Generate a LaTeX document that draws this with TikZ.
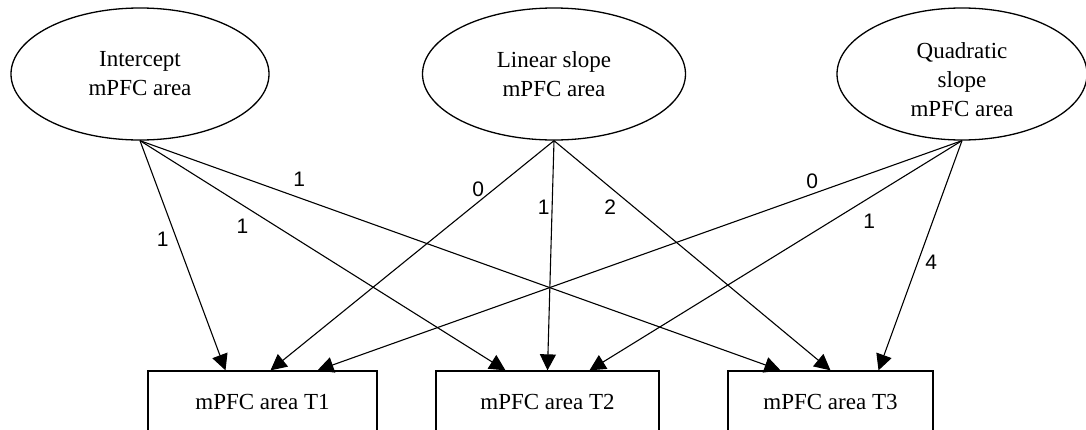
\documentclass[tikz,border=0pt]{standalone}
\usepackage{fontspec}
\setmainfont{Liberation Serif}
\newfontfamily\labfont{Liberation Sans}
\usetikzlibrary{shapes.geometric,arrows.meta}
\begin{document}
\begin{tikzpicture}[x=0.5pt,y=-0.5pt,
  latent/.style={ellipse,draw,line width=0.65pt,inner sep=0pt,minimum height=66pt,align=center,
    font=\fontsize{11.5}{14.5}\selectfont},
  obs/.style={rectangle,draw,line width=0.65pt,inner sep=0pt,minimum height=31pt,
    font=\fontsize{11.5}{14.5}\selectfont},
  arr/.style={line width=0.55pt,-{Triangle[length=8pt,width=8pt]}},
  lab/.style={font=\labfont\fontsize{10.5}{12}\selectfont,inner sep=0pt}]
\useasboundingbox (0,0) rectangle (1086,429);
\node[latent,minimum width=129pt] (int) at (140,74) {Intercept\\mPFC area};
\node[latent,minimum width=131.5pt] (lin) at (554,74) {Linear slope\\mPFC area};
\node[latent,minimum width=125pt] (qua) at (962,74) {\rule{0pt}{13.5pt}Quadratic\\slope\\mPFC area};
\node[obs,minimum width=114.5pt] (t1) at (262.5,402) {mPFC area T1};
\node[obs,minimum width=111.5pt] (t2) at (547.5,402) {mPFC area T2};
\node[obs,minimum width=102.5pt] (t3) at (830.5,402) {mPFC area T3};
\draw[arr] (int.south) -- ([xshift=-18.5pt]t1.north) node[lab,pos=0.43,shift={(-14,0)}] {1};
\draw[arr] (int.south) -- ([xshift=-21pt]t2.north) node[lab,pos=0.307,shift={(-9.7,15.4)}] {1};
\draw[arr] (int.south) -- ([xshift=-25pt]t3.north) node[lab,pos=0.24,shift={(5.4,-16.2)}] {1};
\draw[arr] (lin.south) -- ([xshift=4pt]t1.north) node[lab,pos=0.246,shift={(-6.1,-7.6)}] {0};
\draw[arr] (lin.south) -- ([xshift=0pt]t2.north) node[lab,pos=0.29,shift={(-8.3,0)}] {1};
\draw[arr] (lin.south) -- ([xshift=0pt]t3.north) node[lab,pos=0.239,shift={(-10,12)}] {2};
\draw[arr] (qua.south) -- ([xshift=27.5pt]t1.north) node[lab,pos=0.226,shift={(-4.2,-11)}] {0};
\draw[arr] (qua.south) -- ([xshift=21pt]t2.north) node[lab,pos=0.277,shift={(10.3,17.3)}] {1};
\draw[arr] (qua.south) -- ([xshift=24pt]t3.north) node[lab,pos=0.511,shift={(11.9,4.5)}] {4};
\end{tikzpicture}
\end{document}
